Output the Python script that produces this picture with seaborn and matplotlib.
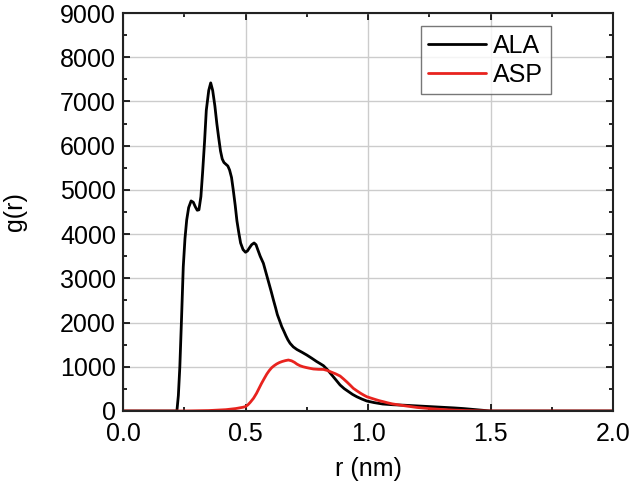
import numpy as np
import pandas as pd
import matplotlib
matplotlib.use("Agg")
import matplotlib.pyplot as plt
from matplotlib.ticker import MultipleLocator
import seaborn as sns

# g(r) curves
r_ala = [0.0, 0.2, 0.22, 0.226, 0.232, 0.239, 0.246, 0.253, 0.26, 0.268, 0.278,
         0.287, 0.295, 0.303, 0.31, 0.318, 0.325, 0.333, 0.34, 0.35, 0.358,
         0.366, 0.375, 0.383, 0.39, 0.398, 0.405, 0.412, 0.42, 0.428, 0.435,
         0.443, 0.45, 0.458, 0.465, 0.473, 0.48, 0.49, 0.5, 0.508, 0.515,
         0.525, 0.535, 0.543, 0.55, 0.56, 0.573, 0.585, 0.595, 0.605, 0.614,
         0.623, 0.63, 0.64, 0.648, 0.657, 0.665, 0.673, 0.682, 0.695, 0.71,
         0.73, 0.75, 0.77, 0.79, 0.805, 0.818, 0.835, 0.85, 0.868, 0.886,
         0.903, 0.92, 0.937, 0.954, 0.975, 0.995, 1.025, 1.06, 1.1, 1.15,
         1.2, 1.25, 1.3, 1.35, 1.39, 1.42, 1.46, 1.5, 2.0]
g_ala = [0, 0, 0, 350, 1000, 2100, 3260, 3900, 4320, 4600, 4750,
         4720, 4620, 4540, 4550, 4850, 5400, 6100, 6800, 7250, 7420,
         7250, 6900, 6500, 6200, 5880, 5700, 5620, 5580, 5540, 5450,
         5280, 5000, 4650, 4300, 4020, 3800, 3650, 3590, 3620, 3680,
         3760, 3800, 3760, 3650, 3500, 3340, 3100, 2900, 2700, 2510,
         2330, 2180, 2030, 1907, 1800, 1700, 1610, 1530, 1450, 1390,
         1330, 1266, 1195, 1120, 1070, 1025, 930, 830, 710, 588,
         505, 440, 375, 323, 270, 226, 190, 158, 142, 130,
         115, 100, 85, 70, 55, 40, 20, 0, 0]

r_asp = [0.0, 0.25, 0.35, 0.42, 0.46, 0.49, 0.5, 0.51, 0.52, 0.533, 0.545,
         0.555, 0.565, 0.576, 0.587, 0.597, 0.607, 0.617, 0.627, 0.638, 0.65,
         0.663, 0.675, 0.688, 0.7, 0.71, 0.722, 0.735, 0.75, 0.763, 0.777,
         0.798, 0.818, 0.835, 0.85, 0.868, 0.886, 0.9, 0.915, 0.928, 0.94,
         0.955, 0.97, 0.983, 0.995, 1.013, 1.03, 1.046, 1.063, 1.08, 1.1,
         1.15, 1.2, 1.25, 1.3, 1.35, 1.4, 1.45, 1.5, 2.0]
g_asp = [0, 0, 10, 30, 55, 85, 100, 140, 200, 290, 400,
         510, 620, 730, 836, 915, 980, 1025, 1063, 1095, 1120,
         1140, 1153, 1135, 1100, 1060, 1025, 1000, 980, 965, 950,
         942, 940, 915, 880, 840, 791, 725, 650, 580, 513,
         455, 400, 358, 323, 290, 260, 233, 210, 185, 160,
         118, 80, 55, 35, 20, 10, 4, 0, 0]

df = pd.concat([
    pd.DataFrame({"r": r_ala, "g": g_ala, "res": "ALA"}),
    pd.DataFrame({"r": r_asp, "g": g_asp, "res": "ASP"}),
])

sns.set_style("ticks")
plt.rcParams['font.family'] = ['Liberation Sans', 'DejaVu Sans']
plt.rcParams['text.color'] = 'black'
plt.rcParams['axes.labelcolor'] = 'black'
plt.rcParams['xtick.color'] = 'black'
plt.rcParams['ytick.color'] = 'black'

fig = plt.figure(figsize=(6.32, 4.95), dpi=100)
ax = fig.add_axes([0.1946, 0.1697, 0.7754, 0.804])

sns.lineplot(data=df, x="r", y="g", hue="res",
             palette={"ALA": "black", "ASP": "#e8231e"},
             linewidth=2.0, ax=ax, sort=False, estimator=None)

ax.set_xlim(0, 2.0)
ax.set_ylim(0, 9000)
ax.xaxis.set_major_locator(MultipleLocator(0.5))
ax.xaxis.set_minor_locator(MultipleLocator(0.25))
ax.yaxis.set_major_locator(MultipleLocator(1000))
ax.yaxis.set_minor_locator(MultipleLocator(500))
ax.grid(True, which="major", color="#cccccc", linewidth=1.0)
ax.set_axisbelow(True)

ax.tick_params(which="both", direction="in", top=True, right=True,
               labelsize=18, width=1.2)
ax.tick_params(which="major", length=5)
ax.tick_params(which="minor", length=3)
ax.tick_params(axis="x", pad=8)
ax.tick_params(axis="y", pad=5)
ax.set_xticklabels([f"{v:.1f}" for v in ax.get_xticks()])
for s in ax.spines.values():
    s.set_linewidth(1.5)
    s.set_color("#222222")

ax.set_xlabel("r (nm)", fontsize=18, labelpad=8)
ax.set_ylabel("g(r)", fontsize=18, labelpad=24)

leg = ax.legend(loc="upper right", bbox_to_anchor=(0.873, 0.967),
                borderaxespad=0, fontsize=18, frameon=True, fancybox=False,
                handlelength=2.3, handletextpad=0.3, borderpad=0.3,
                labelspacing=0.2, title=None)
leg.get_frame().set_edgecolor("#555555")
leg.get_frame().set_linewidth(1.0)

plt.savefig("out.png", dpi=100)
